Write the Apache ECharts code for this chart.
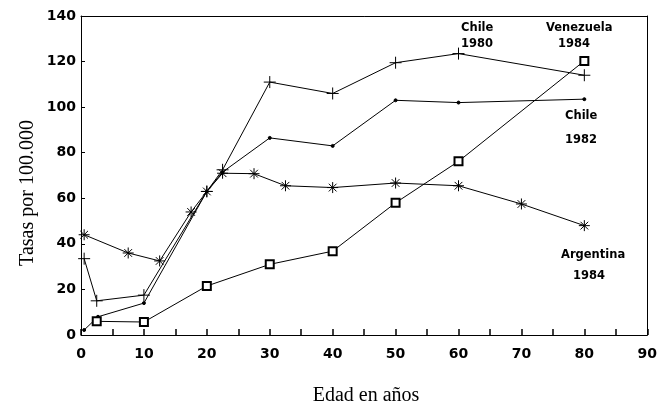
<!DOCTYPE html>
<html>
<head>
<meta charset="utf-8">
<script src="https://cdn.jsdelivr.net/npm/echarts@6/dist/echarts.min.js"></script>
<style>
  html, body { margin: 0; padding: 0; background: #fff; }
  #chart { width: 660px; height: 409px; }
</style>
</head>
<body>
<div id="chart"></div>
<script>
// datos: [edad, tasa]
const chile1980 = [[0.5, 33.5], [2.5, 15], [10, 17.5], [20, 63], [22.5, 72.5], [30, 111], [40, 106], [50, 119.5], [60, 123.5], [80, 114]];
const chile1982 = [[0.5, 2.2], [2.7, 8], [10, 14], [20, 63], [22.5, 71.5], [30, 86.5], [40, 83], [50, 103], [60, 102], [80, 103.5]];
const argentina1984 = [[0.5, 44], [7.5, 36], [12.5, 32.5], [17.5, 54], [20, 63], [22.5, 71], [27.5, 70.8], [32.5, 65.5], [40, 64.7], [50, 66.7], [60, 65.5], [70, 57.5], [80, 48]];
const venezuela1984 = [[2.5, 6], [10, 5.7], [20, 21.5], [30, 31], [40, 36.8], [50, 58], [60, 76.2], [80, 120.3]];

const xTicks = [0, 10, 20, 30, 40, 50, 60, 70, 80, 90];
const yTicks = [0, 20, 40, 60, 80, 100, 120, 140];

const tickFont = { fontFamily: 'DejaVu Sans', fontWeight: 'bold', fontSize: 14, color: '#000' };
const noteFont = { fontFamily: 'DejaVu Sans', fontWeight: 'bold', fontSize: 11.5, fill: '#000' };

const plusSym = 'path://M0,-1L0,1M-1,0L1,0';
const starSym = 'path://M0,-1L0,1M-1,0L1,0M-0.7,-0.7L0.7,0.7M-0.7,0.7L0.7,-0.7';

function serie(name, data, symbol, size) {
  return {
    name: name,
    type: 'line',
    data: data,
    symbol: symbol,
    symbolSize: size,
    showAllSymbol: true,
    lineStyle: { color: '#000', width: 1 },
    itemStyle: { color: '#000', borderColor: '#000', borderWidth: 1 },
    emphasis: { disabled: true },
    z: 3
  };
}

// ejes de arriba y derecha solo para cerrar el marco
const frameAxis = {
  show: true,
  axisLine: { show: true, onZero: false, lineStyle: { color: '#000', width: 1 } },
  axisTick: { show: false },
  axisLabel: { show: false },
  splitLine: { show: false }
};

let chart = echarts.init(document.getElementById('chart'));

let option = {
  backgroundColor: '#fff',
  animation: false,
  grid: { left: 81, right: 11, top: 16, bottom: 74 },
  xAxis: [{
    type: 'value',
    min: xTicks[0],
    max: xTicks[xTicks.length - 1],
    interval: 10,
    axisLine: { onZero: false, lineStyle: { color: '#000', width: 1 } },
    axisTick: { inside: true, length: 6, lineStyle: { color: '#000', width: 1.5 } },
    minorTick: { show: true, splitNumber: 2, length: 6, lineStyle: { color: '#000', width: 1.5 } },
    splitLine: { show: false },
    axisLabel: Object.assign({ margin: 12 }, tickFont)
  }, Object.assign({ type: 'value', position: 'top', min: 0, max: 90 }, frameAxis)],
  yAxis: [{
    type: 'value',
    min: yTicks[0],
    max: yTicks[yTicks.length - 1],
    interval: 20,
    axisLine: { show: true, onZero: false, lineStyle: { color: '#000', width: 1 } },
    axisTick: { show: true, inside: true, length: 4, lineStyle: { color: '#000' } },
    splitLine: { show: false },
    axisLabel: Object.assign({ margin: 5 }, tickFont)
  }, Object.assign({ type: 'value', position: 'right', min: 0, max: 140 }, frameAxis)],
  series: [
    serie('Chile 1980', chile1980, plusSym, 12),
    serie('Chile 1982', chile1982, 'circle', 3),
    serie('Argentina 1984', argentina1984, starSym, 11),
    serie('Venezuela 1984', venezuela1984, 'emptyRect', 8)
  ],
  graphic: [
    { type: 'text', left: 461, top: 20, style: Object.assign({ text: 'Chile\n1980', lineHeight: 16 }, noteFont) },
    { type: 'text', left: 546, top: 20, style: Object.assign({ text: 'Venezuela\n   1984', lineHeight: 16 }, noteFont) },
    { type: 'text', left: 565, top: 110, style: Object.assign({ text: 'Chile\n\n1982', lineHeight: 12 }, noteFont) },
    { type: 'text', left: 561, top: 245, style: Object.assign({ text: 'Argentina\n   1984', lineHeight: 21 }, noteFont) },
    { type: 'text', x: 28, y: 193, rotation: Math.PI / 2,
      style: { text: 'Tasas por 100.000', fontFamily: 'Liberation Serif', fontSize: 20, fill: '#000', align: 'center', verticalAlign: 'middle' } },
    { type: 'text', x: 366, y: 396,
      style: { text: 'Edad en años', fontFamily: 'Liberation Serif', fontSize: 20, fill: '#000', align: 'center', verticalAlign: 'middle' } }
  ]
};

chart.setOption(option);
</script>
</body>
</html>
